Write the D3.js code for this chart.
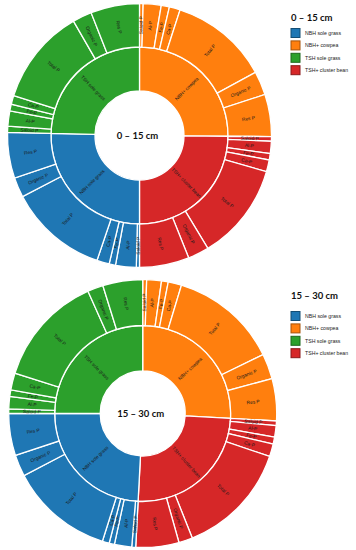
<!DOCTYPE html>
<html>
<head>
<meta charset="utf-8">
<script src="https://cdn.jsdelivr.net/npm/d3@7/dist/d3.min.js"></script>
<style>
  body { margin: 0; background: #fff; }
  svg { display: block; }
</style>
</head>
<body>
<div id="chart"></div>
<script>
// ring order, clockwise from 12 o'clock
var treatments = ["NBH+ cowpea", "TSH+ cluster bean", "NBH sole grass", "TSH sole grass"];
var fractions = ["Saloid P", "Al-P", "Fe-P", "Ca-P", "Total P", "Organic P", "Res P"];
var legendOrder = ["NBH sole grass", "NBH+ cowpea", "TSH sole grass", "TSH+ cluster bean"];
var treatmentColors = ["#ff7f0e", "#d62728", "#1f77b4", "#2ca02c"];

// 0 - 15 cm, one value per P fraction (same order as fractions)
var cowpea0_15 = [1.6, 7.9, 3.6, 4.8, 43.5, 10.5, 18.6];
var clusterBean0_15 = [2.0, 5.4, 2.8, 5.2, 42.9, 9.3, 21.9];
var nbhGrass0_15 = [1.4, 9.1, 2.8, 5.5, 43.6, 8.8, 20.2];
var tshGrass0_15 = [2.7, 6.7, 2.9, 3.9, 42.4, 8.5, 21.5];

// 15 - 30 cm
var cowpea15_30 = [1.7, 6.4, 2.9, 5.8, 47.1, 11.0, 18.3];
var clusterBean15_30 = [2.0, 5.0, 3.0, 5.5, 49.6, 6.0, 18.7];
var nbhGrass15_30 = [1.7, 7.5, 2.3, 3.0, 44.9, 9.4, 18.2];
var tshGrass15_30 = [2.0, 5.3, 2.9, 7.3, 48.4, 6.8, 17.3];

var width = 356, height = 550;

var color = d3.scaleOrdinal().domain(treatments).range(treatmentColors);

var svg = d3.select("#chart").append("svg")
  .attr("width", width)
  .attr("height", height);

function sunburst(values, title, cx, cy, radii) {
  var data = {
    name: "root",
    children: treatments.map((t, i) => ({
      name: t,
      children: fractions.map((f, j) => ({ name: f, value: values[i][j] }))
    }))
  };

  var root = d3.hierarchy(data).sum(d => d.value || 0);
  d3.partition().size([2 * Math.PI, 3])(root);

  // depth -> radius (rings are not equally thick)
  var radius = d3.scaleLinear().domain([1, 2, 3]).range(radii);

  var arc = d3.arc()
    .startAngle(d => d.x0)
    .endAngle(d => d.x1)
    .innerRadius(d => radius(d.y0))
    .outerRadius(d => radius(d.y1));

  var g = svg.append("g").attr("transform", `translate(${cx},${cy})`);
  var nodes = root.descendants().filter(d => d.depth > 0);

  g.selectAll("path")
    .data(nodes)
    .join("path")
    .attr("d", arc)
    .attr("fill", d => color(d.depth === 1 ? d.data.name : d.parent.data.name))
    .attr("stroke", "#fff")
    .attr("stroke-width", 1.3);

  g.selectAll("text.lbl")
    .data(nodes)
    .join("text")
    .attr("class", "lbl")
    .attr("transform", d => {
      var a = (d.x0 + d.x1) / 2 * 180 / Math.PI;
      var r = (radius(d.y0) + radius(d.y1)) / 2;
      return `rotate(${a - 90}) translate(${r},0) rotate(${a < 180 ? 0 : 180})`;
    })
    .attr("dy", "0.35em")
    .attr("text-anchor", "middle")
    .attr("font-family", "Liberation Sans, Arial, sans-serif")
    .attr("font-size", 4.8)
    .attr("fill", "#1a1a1a")
    .text(d => d.data.name);

  g.append("text")
    .attr("x", -2)
    .attr("dy", "0.35em")
    .attr("text-anchor", "middle")
    .attr("font-family", "Lato, sans-serif")
    .attr("font-weight", "bold")
    .attr("font-size", 9.5)
    .attr("fill", "#111")
    .text(title);
}

function legend(title, x, y, firstRow) {
  var g = svg.append("g").attr("transform", `translate(${x},${y})`);
  g.append("text")
    .attr("dy", "0.35em")
    .attr("font-family", "Lato, sans-serif")
    .attr("font-weight", "bold")
    .attr("font-size", 9.5)
    .attr("fill", "#111")
    .text(title);

  var row = g.selectAll("g.item")
    .data(legendOrder)
    .join("g")
    .attr("class", "item")
    .attr("transform", (d, i) => `translate(0,${firstRow + i * 12.4})`);

  row.append("rect")
    .attr("y", -4.5)
    .attr("width", 9)
    .attr("height", 9)
    .attr("fill", d => color(d))
    .attr("stroke", d => d3.color(color(d)).darker(1.2))
    .attr("stroke-width", 1);

  row.append("text")
    .attr("x", 14)
    .attr("dy", "0.35em")
    .attr("font-family", "Liberation Sans, Arial, sans-serif")
    .attr("font-size", 5.2)
    .attr("fill", "#222")
    .text(d => d);
}

sunburst([cowpea0_15, clusterBean0_15, nbhGrass0_15, tshGrass0_15],
  "0 – 15 cm", 139.5, 135.5, [44.5, 88.5, 132]);
sunburst([cowpea15_30, clusterBean15_30, nbhGrass15_30, tshGrass15_30],
  "15 – 30 cm", 142.7, 413.5, [42.5, 88, 134]);

legend("0 – 15 cm", 291, 18, 15);
legend("15 – 30 cm", 291, 296, 20);
</script>
</body>
</html>
